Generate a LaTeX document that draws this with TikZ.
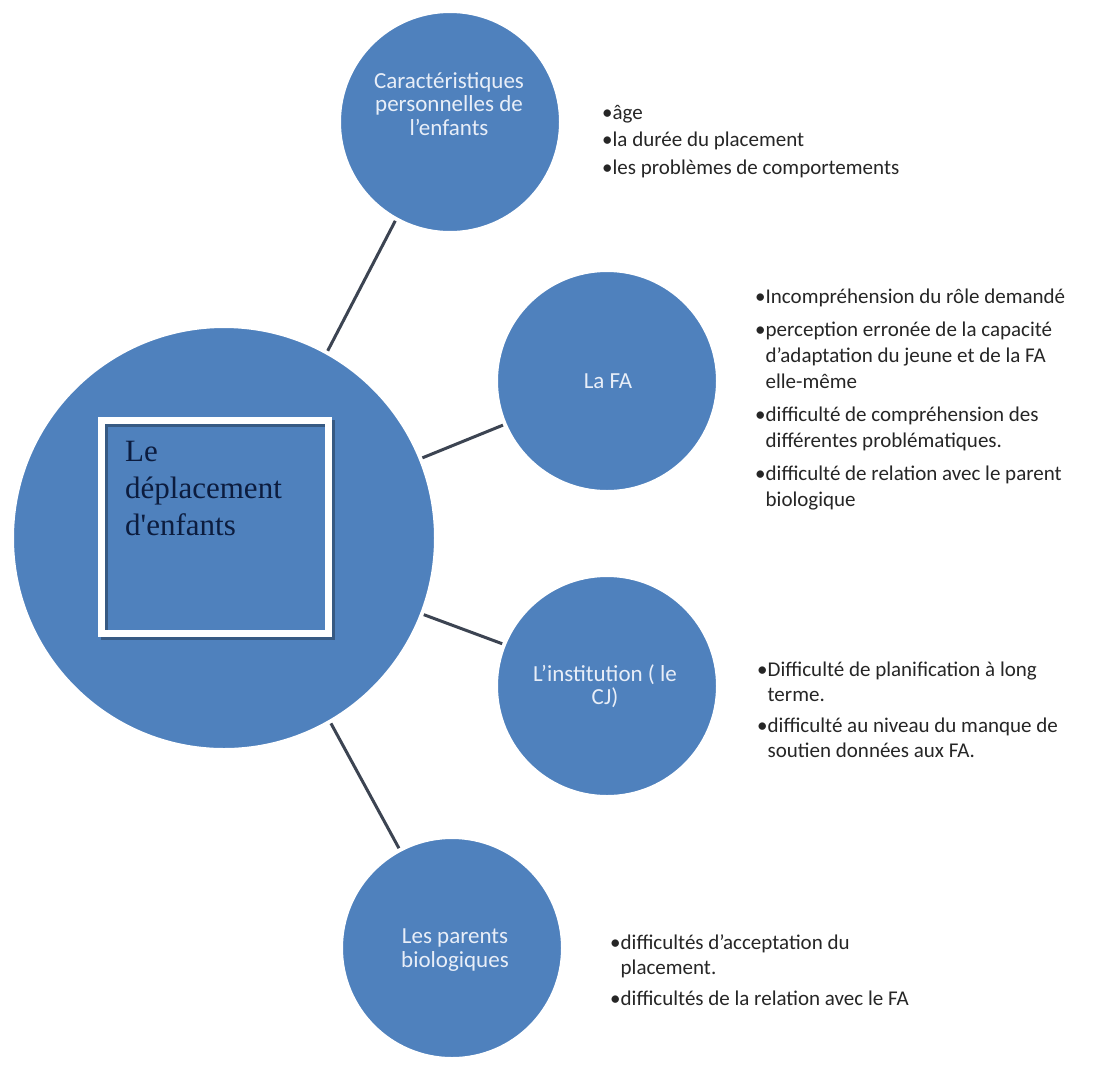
\documentclass[tikz,border=0pt]{standalone}
\usepackage{fontspec}
\setmainfont{Liberation Serif}
\newfontfamily\calfont{Carlito}
\definecolor{cblue}{HTML}{4F81BD}
\definecolor{ctext}{HTML}{E8EEF8}
\definecolor{lgray}{HTML}{3C4452}
\definecolor{btext}{HTML}{262626}
\definecolor{navy}{HTML}{0C1C3E}
\newlength\bw
\newcommand\blk[3]{\parbox[t]{#1}{\calfont\fontsize{21}{#2}\selectfont\color{btext}\raggedright\settowidth\bw{•}#3}}
\tikzset{
  bigc/.style={circle, fill=cblue, draw=white, line width=2pt, minimum size=422pt, inner sep=0pt},
  smallc/.style={circle, fill=cblue, draw=white, line width=2pt, minimum size=220pt, inner sep=0pt},
  clabel/.style={align=center, text=ctext, font=\calfont\fontsize{23}{23.5}\selectfont, inner sep=0pt},
  conn/.style={draw=lgray, line width=3pt, shorten <=2pt, shorten >=2pt},
  bullets/.style={anchor=base west, inner sep=0pt},
  framebox/.style={draw=white, line width=7pt, inner sep=0pt}
}
\begin{document}
\begin{tikzpicture}[x=1pt,y=1pt]
\useasboundingbox[fill=white] (0,0) rectangle (1097,-1066);
% circles
\node[bigc] (big) at (224,-538) {};
\node[smallc] (c1) at (450,-122) {};
\node[smallc] (c2) at (607,-381) {};
\node[smallc] (c3) at (607,-686) {};
\node[smallc] (c4) at (452,-948) {};
% circle labels
\node[clabel] (c1t) at (449,-104) {Caractéristiques\\personnelles de\\l’enfants};
\node[clabel] (c2t) at (608,-381) {La FA};
\node[clabel] (c3t) at (605,-686) {L’institution ( le\\CJ)};
\node[clabel] (c4t) at (455,-950) {Les parents\\biologiques};
% framed square
\draw[black, opacity=0.3, line width=7pt] (104.5,-423.5) rectangle (331.5,-636.5);
\node[framebox, minimum width=227pt, minimum height=213pt] (sq) at (215,-527) {};
\node[anchor=base west, inner sep=0pt, text=navy] (title) at (125,-461) {\parbox[t]{200pt}{\fontsize{31}{37}\selectfont Le\\déplacement\\d\textquotesingle enfants}};
% connectors
\draw[conn] (big.61.4) -- (c1.241.8);
\draw[conn] (big.22) -- (c2.203);
\draw[conn] (big.-21) -- (c3.158.6);
\draw[conn] (big.-60.5) -- (c4.118.4);
% bullet texts
\node[bullets] (b1) at (602,-105) {\blk{420pt}{27.5pt}{•âge\\•la durée du placement\\•les problèmes de comportements}};
\node[bullets] (b2) at (755,-289) {\blk{340pt}{26pt}{•Incompréhension du rôle demandé\\[7pt]•perception erronée de la capacité\\\hspace*{\bw}d’adaptation du jeune et de la FA\\\hspace*{\bw}elle-même\\[7pt]•difficulté de compréhension des\\\hspace*{\bw}différentes problématiques.\\[7pt]•difficulté de relation avec le parent\\\hspace*{\bw}biologique}};
\node[bullets] (b3) at (757,-662) {\blk{340pt}{25pt}{•Difficulté de planification à long\\\hspace*{\bw}terme.\\[6pt]•difficulté au niveau du manque de\\\hspace*{\bw}soutien données aux FA.}};
\node[bullets] (b4) at (610,-935) {\blk{360pt}{25pt}{•difficultés d’acceptation du\\\hspace*{\bw}placement.\\[6pt]•difficultés de la relation avec le FA}};
\end{tikzpicture}
\end{document}
